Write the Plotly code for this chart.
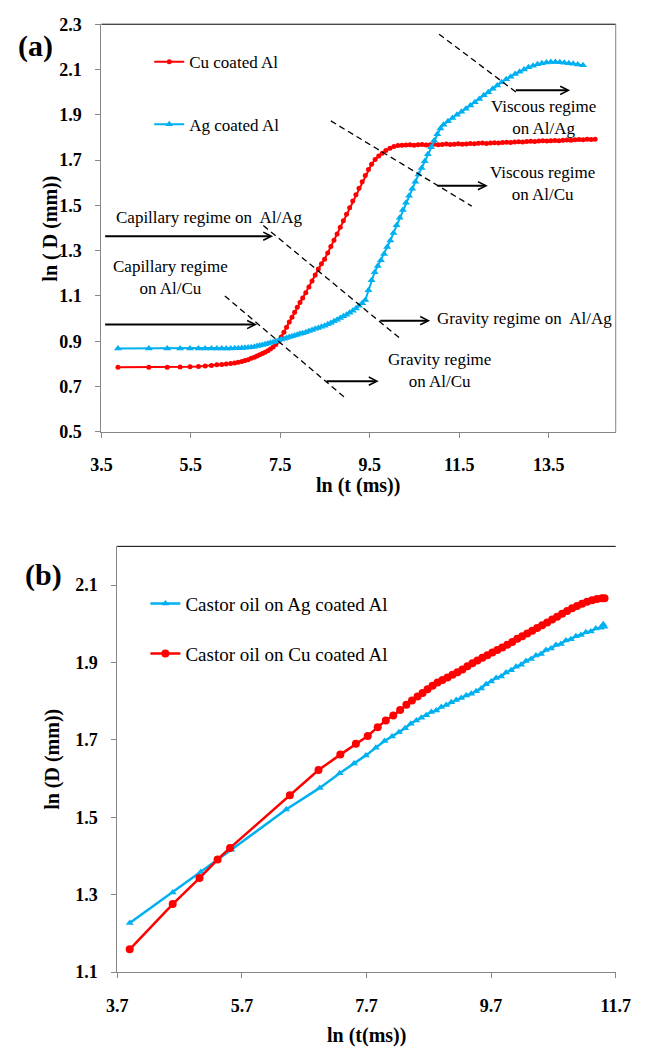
import plotly.graph_objects as go

# ---------------- data: panel (a) ----------------
cu_top_x = [
    3.87, 4.56, 4.97, 5.26, 5.48, 5.67, 5.82, 5.96, 6.08, 6.19,
    6.29, 6.39, 6.48, 6.56, 6.64, 6.71, 6.78, 6.85, 6.92, 6.98,
    7.04, 7.10, 7.16, 7.22, 7.28, 7.34, 7.40, 7.46, 7.52, 7.58,
    7.64, 7.70, 7.76, 7.82, 7.88, 7.94, 8.00, 8.07, 8.14, 8.21,
    8.28, 8.35, 8.42, 8.49, 8.56, 8.63, 8.70, 8.77, 8.84, 8.91,
    8.98, 9.05, 9.12, 9.19, 9.26, 9.33, 9.40, 9.47, 9.54, 9.62,
    9.70, 9.78, 9.86, 9.95, 10.04, 10.13, 10.22, 10.31, 10.40, 10.49,
    10.58, 10.67, 10.76, 10.85, 10.94, 11.03, 11.12, 11.21, 11.30, 11.39,
    11.48, 11.57, 11.66, 11.75, 11.84, 11.93, 12.02, 12.11, 12.20, 12.29,
    12.38, 12.47, 12.56, 12.65, 12.74, 12.83, 12.92, 13.01, 13.10, 13.19,
    13.28, 13.37, 13.46, 13.55, 13.64, 13.73, 13.82, 13.91, 14.00, 14.09,
    14.18, 14.27, 14.36, 14.45, 14.54,
]
cu_top_y = [
    0.785, 0.785, 0.785, 0.786, 0.787, 0.789, 0.791, 0.793, 0.796, 0.798,
    0.800, 0.802, 0.804, 0.807, 0.811, 0.815, 0.819, 0.825, 0.830, 0.835,
    0.841, 0.846, 0.852, 0.858, 0.866, 0.875, 0.886, 0.900, 0.919, 0.940,
    0.962, 0.985, 1.006, 1.028, 1.050, 1.071, 1.091, 1.114, 1.140, 1.166,
    1.193, 1.219, 1.242, 1.262, 1.290, 1.318, 1.346, 1.374, 1.403, 1.432,
    1.461, 1.490, 1.519, 1.547, 1.576, 1.604, 1.632, 1.658, 1.682, 1.703,
    1.718, 1.730, 1.742, 1.752, 1.760, 1.765, 1.766, 1.767, 1.768, 1.766,
    1.768, 1.769, 1.767, 1.768, 1.770, 1.768, 1.769, 1.771, 1.769, 1.770,
    1.772, 1.770, 1.771, 1.773, 1.772, 1.774, 1.775, 1.773, 1.776, 1.777,
    1.776, 1.778, 1.779, 1.778, 1.780, 1.781, 1.780, 1.782, 1.783, 1.782,
    1.784, 1.785, 1.784, 1.786, 1.787, 1.786, 1.788, 1.789, 1.788, 1.790,
    1.791, 1.790, 1.792, 1.791, 1.792,
]
ag_top_x = [
    3.87, 4.56, 4.97, 5.26, 5.48, 5.67, 5.82, 5.96, 6.08, 6.19,
    6.29, 6.39, 6.48, 6.56, 6.64, 6.71, 6.78, 6.85, 6.92, 6.98,
    7.04, 7.10, 7.16, 7.22, 7.28, 7.34, 7.40, 7.46, 7.52, 7.58,
    7.64, 7.70, 7.76, 7.82, 7.88, 7.94, 8.00, 8.07, 8.14, 8.21,
    8.28, 8.35, 8.42, 8.49, 8.56, 8.63, 8.70, 8.77, 8.84, 8.91,
    8.98, 9.05, 9.12, 9.19, 9.26, 9.33, 9.40, 9.47, 9.54, 9.61,
    9.68, 9.75, 9.82, 9.89, 9.96, 10.03, 10.10, 10.17, 10.24, 10.31,
    10.38, 10.45, 10.52, 10.59, 10.66, 10.73, 10.80, 10.87, 10.94, 11.01,
    11.08, 11.15, 11.25, 11.35, 11.45, 11.55, 11.65, 11.75, 11.85, 11.95,
    12.05, 12.15, 12.25, 12.35, 12.45, 12.55, 12.65, 12.75, 12.85, 12.95,
    13.05, 13.15, 13.25, 13.35, 13.45, 13.55, 13.65, 13.75, 13.85, 13.95,
    14.05, 14.15, 14.27,
]
ag_top_y = [
    0.868, 0.868, 0.868, 0.868, 0.868, 0.868, 0.868, 0.868, 0.868, 0.868,
    0.868, 0.868, 0.869, 0.869, 0.870, 0.871, 0.872, 0.874, 0.876, 0.879,
    0.881, 0.884, 0.887, 0.890, 0.893, 0.896, 0.900, 0.904, 0.908, 0.911,
    0.915, 0.919, 0.922, 0.926, 0.929, 0.933, 0.936, 0.940, 0.945, 0.950,
    0.955, 0.959, 0.964, 0.969, 0.975, 0.981, 0.988, 0.995, 1.003, 1.010,
    1.017, 1.026, 1.035, 1.045, 1.057, 1.068, 1.082, 1.125, 1.170, 1.205,
    1.232, 1.258, 1.285, 1.316, 1.345, 1.378, 1.412, 1.445, 1.480, 1.512,
    1.543, 1.574, 1.604, 1.636, 1.665, 1.695, 1.726, 1.757, 1.787, 1.814,
    1.840, 1.856, 1.872, 1.886, 1.900, 1.913, 1.927, 1.941, 1.955, 1.970,
    1.986, 2.000, 2.015, 2.029, 2.044, 2.057, 2.068, 2.080, 2.090, 2.100,
    2.110, 2.117, 2.123, 2.128, 2.131, 2.133, 2.133, 2.132, 2.130, 2.128,
    2.125, 2.122, 2.119,
]

# ---------------- data: panel (b) ----------------
ag_bot_x = [
    3.90, 4.59, 5.04, 5.31, 5.53, 6.41, 6.95, 7.27, 7.50, 7.69,
    7.85, 7.99, 8.11, 8.22, 8.32, 8.41, 8.50, 8.58, 8.66, 8.74,
    8.82, 8.90, 8.98, 9.06, 9.14, 9.22, 9.30, 9.38, 9.46, 9.54,
    9.62, 9.70, 9.78, 9.86, 9.94, 10.02, 10.10, 10.18, 10.26, 10.34,
    10.42, 10.50, 10.58, 10.66, 10.74, 10.82, 10.90, 10.98, 11.06, 11.14,
    11.22, 11.30, 11.38, 11.46, 11.50, 11.52,
]
ag_bot_y = [
    1.227, 1.306, 1.359, 1.389, 1.416, 1.520, 1.576, 1.614, 1.639, 1.660,
    1.680, 1.697, 1.709, 1.720, 1.730, 1.742, 1.750, 1.757, 1.764, 1.772,
    1.776, 1.785, 1.790, 1.797, 1.803, 1.808, 1.815, 1.819, 1.826, 1.833,
    1.844, 1.851, 1.860, 1.864, 1.874, 1.880, 1.889, 1.894, 1.904, 1.909,
    1.918, 1.922, 1.932, 1.936, 1.945, 1.948, 1.957, 1.960, 1.968, 1.971,
    1.978, 1.980, 1.988, 1.990, 1.999, 1.992,
]
cu_bot_x = [
    3.90, 4.59, 5.02, 5.31, 5.51, 6.47, 6.93, 7.28, 7.53, 7.72,
    7.88, 8.01, 8.13, 8.24, 8.34, 8.43, 8.52, 8.60, 8.68, 8.76,
    8.84, 8.92, 9.00, 9.08, 9.16, 9.24, 9.32, 9.40, 9.48, 9.56,
    9.64, 9.72, 9.80, 9.88, 9.96, 10.04, 10.12, 10.20, 10.28, 10.36,
    10.44, 10.52, 10.60, 10.68, 10.76, 10.84, 10.92, 11.00, 11.08, 11.16,
    11.24, 11.32, 11.40, 11.48, 11.52,
]
cu_bot_y = [
    1.159, 1.276, 1.343, 1.391, 1.421, 1.557, 1.622, 1.662, 1.690, 1.710,
    1.733, 1.750, 1.763, 1.777, 1.791, 1.802, 1.812, 1.821, 1.831, 1.840,
    1.848, 1.855, 1.861, 1.868, 1.875, 1.882, 1.890, 1.898, 1.905, 1.912,
    1.919, 1.926, 1.932, 1.939, 1.946, 1.953, 1.961, 1.968, 1.975, 1.982,
    1.989, 1.996, 2.003, 2.011, 2.018, 2.026, 2.033, 2.040, 2.046, 2.052,
    2.057, 2.061, 2.064, 2.066, 2.066,
]

# ---------------- tick labels ----------------
top_x_ticks = [3.5, 5.5, 7.5, 9.5, 11.5, 13.5]
top_x_labels = ["3.5", "5.5", "7.5", "9.5", "11.5", "13.5"]
top_y_ticks = [0.5, 0.7, 0.9, 1.1, 1.3, 1.5, 1.7, 1.9, 2.1, 2.3]
top_y_labels = ["0.5", "0.7", "0.9", "1.1", "1.3", "1.5", "1.7", "1.9", "2.1", "2.3"]
bot_x_ticks = [3.7, 5.7, 7.7, 9.7, 11.7]
bot_x_labels = ["3.7", "5.7", "7.7", "9.7", "11.7"]
bot_y_ticks = [1.1, 1.3, 1.5, 1.7, 1.9, 2.1]
bot_y_labels = ["1.1", "1.3", "1.5", "1.7", "1.9", "2.1"]

# ---------------- regime annotations (panel a) ----------------
regime_labels = [
    ("Capillary regime on&nbsp; Al/Ag", 5.91, 1.447),
    ("Capillary regime<br>on Al/Cu", 5.05, 1.181),
    ("Gravity regime on&nbsp; Al/Ag", 12.96, 0.999),
    ("Gravity regime<br>on Al/Cu", 11.07, 0.769),
    ("Viscous regime<br>on Al/Cu", 13.36, 1.595),
    ("Viscous regime<br>on Al/Ag", 13.39, 1.890),
]
regime_arrows = [  # (x_tail, x_head, y)
    (3.55, 7.34, 1.364),
    (3.55, 6.98, 0.974),
    (9.70, 10.85, 0.991),
    (8.50, 9.70, 0.724),
    (10.98, 12.14, 1.587),
    (12.73, 13.98, 2.008),
]
regime_dashes = [  # (x0, y0, x1, y1)
    (11.05, 2.256, 12.80, 1.996),
    (8.63, 1.873, 11.78, 1.497),
    (7.12, 1.411, 10.18, 0.912),
    (6.26, 1.100, 8.94, 0.652),
]

RED = "#FF0000"
CYAN = "#00B0F0"
FONT = "Liberation Serif, Times New Roman, serif"
W, H = 648, 1057

fig = go.Figure()
fig.add_trace(go.Scatter(
    x=cu_top_x, y=cu_top_y, mode="lines+markers", name="Cu coated Al",
    line=dict(color=RED, width=2), marker=dict(symbol="circle", size=5, color=RED),
    xaxis="x", yaxis="y", legend="legend"))
fig.add_trace(go.Scatter(
    x=ag_top_x, y=ag_top_y, mode="lines+markers", name="Ag coated Al",
    line=dict(color=CYAN, width=2), marker=dict(symbol="triangle-up", size=7, color=CYAN),
    xaxis="x", yaxis="y", legend="legend2"))
fig.add_trace(go.Scatter(
    x=ag_bot_x, y=ag_bot_y, mode="lines+markers", name="Castor oil on Ag coated Al",
    line=dict(color=CYAN, width=2.5), marker=dict(symbol="triangle-up", size=7, color=CYAN),
    xaxis="x2", yaxis="y2", legend="legend3"))
fig.add_trace(go.Scatter(
    x=cu_bot_x, y=cu_bot_y, mode="lines+markers", name="Castor oil on Cu coated Al",
    line=dict(color=RED, width=2.5), marker=dict(symbol="circle", size=8, color=RED),
    xaxis="x2", yaxis="y2", legend="legend4"))

tickfont = dict(family=FONT, size=18, color="black", weight="bold")
axis_common = dict(showgrid=False, zeroline=False, showline=True, linecolor="#868686",
                   linewidth=1, ticks="outside", ticklen=5, tickcolor="#868686",
                   tickfont=tickfont)

fig.update_layout(
    width=W, height=H, margin=dict(l=0, r=0, t=0, b=0),
    paper_bgcolor="white", plot_bgcolor="white", showlegend=True,
    xaxis=dict(domain=[94.2 / W, 630 / W], range=[3.5, 15.0], tickvals=top_x_ticks,
               ticktext=top_x_labels, anchor="y", ticklabelstandoff=12, **axis_common),
    yaxis=dict(domain=[1 - 430 / H, 1 - 14.5 / H], range=[0.5, 2.3], tickvals=top_y_ticks,
               ticktext=top_y_labels, anchor="x", ticklabelstandoff=10, **axis_common),
    xaxis2=dict(domain=[110.7 / W, 630 / W], range=[3.7, 11.7], tickvals=bot_x_ticks,
                ticktext=bot_x_labels, anchor="y2", ticklabelstandoff=12, **axis_common),
    yaxis2=dict(domain=[1 - 980.7 / H, 1 - 546.7 / H], range=[1.1, 2.2], tickvals=bot_y_ticks,
                ticktext=bot_y_labels, anchor="x2", ticklabelstandoff=10, **axis_common),
)

def leg(xpx, ypx, size):
    return dict(x=xpx / W, xanchor="left", y=1 - ypx / H, yanchor="middle",
                font=dict(family=FONT, size=size, color="black"),
                bgcolor="rgba(0,0,0,0)", borderwidth=0)
fig.update_layout(legend=leg(144, 53.3, 17), legend2=leg(144, 117, 17),
                  legend3=leg(140, 605, 19), legend4=leg(140, 656, 19))

shapes = [
    dict(type="line", xref="x domain", yref="y domain", x0=0, x1=1, y0=1, y1=1,
         line=dict(color="black", width=1)),
    dict(type="line", xref="x domain", yref="y domain", x0=1, x1=1, y0=0, y1=1,
         line=dict(color="#808080", width=1)),
    dict(type="line", xref="x2 domain", yref="y2 domain", x0=0, x1=1, y0=1, y1=1,
         line=dict(color="black", width=1)),
]
for (x0, y0, x1, y1) in regime_dashes:
    shapes.append(dict(type="line", xref="x", yref="y", x0=x0, y0=y0, x1=x1, y1=y1,
                       line=dict(color="black", width=1.3, dash="6px,4px")))
fig.update_layout(shapes=shapes)

annotations = []
for (txt, x, y) in regime_labels:
    annotations.append(dict(text=txt, x=x, y=y, xref="x", yref="y", showarrow=False,
                            xanchor="center", yanchor="middle",
                            font=dict(family=FONT, size=17, color="black"), align="center"))
for (xt, xh, y) in regime_arrows:
    annotations.append(dict(text="", x=xh, y=y, ax=xt, ay=y, xref="x", yref="y",
                            axref="x", ayref="y", showarrow=True, arrowhead=5,
                            arrowsize=0.8, arrowwidth=2, arrowcolor="black", standoff=0))
titlefont = dict(family=FONT, size=20, color="black", weight="bold")
def paper_text(txt, xpx, ypx, font, angle=0):
    return dict(text=txt, x=xpx / W, y=1 - ypx / H, xref="paper", yref="paper",
                xanchor="center", yanchor="middle", textangle=angle,
                showarrow=False, font=font)
bigfont = dict(family=FONT, size=30, color="black", weight="bold")
annotations += [
    paper_text("ln ( D (mm))", 41, 222.5, titlefont, -90),
    paper_text("ln (t (ms))", 362, 485, titlefont),
    paper_text("ln (D (mm))", 43, 764, titlefont, -90),
    paper_text("ln (t(ms))", 370, 1045, titlefont),
    paper_text("(a)", 25.7, 36.5, bigfont),
    paper_text("(b)", 34, 576, bigfont),
]
fig.update_layout(annotations=annotations)

fig.write_html(
    "out.html",
    config={"displayModeBar": False},
    post_script="document.body.style.margin='0';document.body.style.overflow='hidden';",
)
